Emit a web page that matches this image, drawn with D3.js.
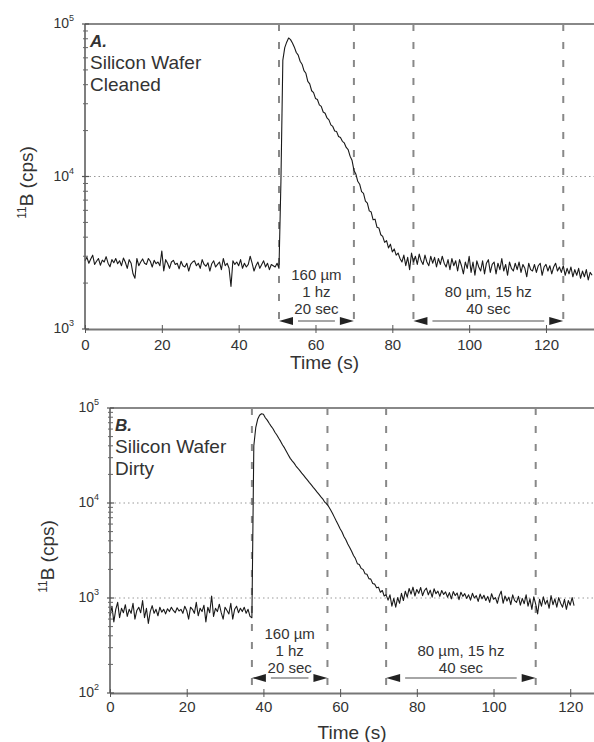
<!DOCTYPE html>
<html><head><meta charset="utf-8">
<script src="https://cdn.jsdelivr.net/npm/d3@7"></script>
<style>
body{margin:0;background:#fff}
svg{display:block}
text{font-family:"Liberation Sans",Arial,Helvetica,sans-serif;fill:#333}
</style>
</head><body>
<svg id="chart" width="594" height="742"></svg>
<script>
// ---------- data ----------
const xTickValues = [0, 20, 40, 60, 80, 100, 120];
const topDecades = [3, 4, 5];
const botDecades = [2, 3, 4, 5];
const sampleStep = 0.5; // seconds between samples

// Panel A: Silicon wafer cleaned (cps), samples every 0.5 s from t = 0
const topCps = [
2800,2950,2700,2880,3050,2650,2780,2900,2620,2830,
2750,2980,2700,2560,2850,2720,2900,2680,2800,2600,
2920,2740,2500,2850,2700,2300,2150,2900,2600,2750,
2880,2700,2650,2900,2780,2550,2820,2680,2750,2600,
3250,2400,2850,2700,2500,2750,2820,2650,2700,2480,
2780,2600,2550,2700,2400,2650,2750,2800,2600,2700,
2500,2850,2650,2580,2720,2400,2680,2800,2550,2650,
2750,2450,2900,2600,2700,2500,1900,2800,2650,2750,
2600,2850,2500,2700,2550,2650,3000,2700,2400,2600,
2750,2500,2650,2800,2550,2700,2450,2650,2600,2550,
2700,2500,
9200,58000,70000,76000,81000,
79000,75000,70500,65000,62500,57000,54500,49500,47500,42000,
40500,36500,35500,32500,32000,29500,28800,26500,26000,24200,
23500,21800,21300,19900,19700,18300,18000,17000,16600,15500,
15000,13600,12800,11000,10400,9300,8900,7950,7750,6900,
6700,5950,5850,5200,5250,4650,4600,4150,4050,3700,
3800,3400,3600,3200,3350,3050,3150,2900,
2750,3050,2600,2950,2450,3150,2750,3000,2650,3100,
2800,2650,3050,2750,2600,3000,2700,2950,2550,2900,
2650,3000,2700,2550,2850,2450,2900,2600,2800,2400,
2850,2600,2300,2750,2500,3000,2350,2750,2250,2800,
2550,2400,2800,2300,2700,2850,2350,2650,2750,2300,
2700,2450,2900,2400,2650,2250,2750,2500,2400,2700,
2450,2750,2350,2650,2500,2200,2700,2450,2400,2650,
2350,2600,2700,2250,2550,2650,2400,2600,2300,2550,
2700,2400,2550,2350,2600,2250,2500,2300,2550,2200,
2450,2250,2500,2150,2400,2200,2450,2100,2350,2250
];

// Panel B: Silicon wafer dirty (cps), samples every 0.5 s from t = 0
const botCps = [
650,820,560,760,900,620,780,700,850,640,
760,690,880,600,740,800,700,940,620,780,
540,720,830,690,760,650,800,710,760,680,
770,720,800,740,700,790,730,760,690,820,
740,600,800,760,690,900,650,780,720,840,
560,800,700,1050,640,780,720,860,700,600,
800,740,680,880,600,760,820,700,780,720,
800,690,760,640,
620,40000,62000,76000,84000,87000,86000,
79000,74500,69000,64500,60500,55500,52000,48000,44500,40800,
38000,34800,32000,29500,27800,26300,24500,23200,21900,20600,
19500,18400,17400,16400,15500,14600,13800,13000,12300,11600,
11000,10200,9800,9200,8500,7800,7100,6450,5900,5350,
4950,4450,4100,3700,3400,3100,2800,2600,2300,2250,
2050,2000,1800,1780,1600,1580,1420,1400,1280,1300,
1150,1200,1050,1080,
950,1080,820,990,800,1010,880,1120,940,1180,
1020,1260,1100,1300,1050,1230,1120,1290,1060,1200,
1270,1080,1210,1020,1250,1110,1180,1040,1200,1090,
1160,1020,1140,980,1170,1060,1130,960,1150,1040,
1110,990,1080,950,1120,1000,1060,920,1100,980,
1070,940,1040,900,1110,970,1010,880,1060,1180,
880,1050,930,1020,850,1080,940,900,1040,840,
990,870,1080,820,980,760,1030,860,680,970,
820,1030,860,950,780,1060,850,980,800,1010,
880,800,970,760,940,840,1010,830
];

const topMarkers = [50.5, 70, 85.5, 124.5];
const botMarkers = [37, 56.7, 72, 111];
const topLabels = ["A.", "Silicon Wafer", "Cleaned"];
const botLabels = ["B.", "Silicon Wafer", "Dirty"];
const pulseText = ["160 µm", "1 hz", "20 sec"];
const rasterText = ["80 µm, 15 hz", "40 sec"];
const xTitle = "Time (s)";
const yTitleSup = "11";
const yTitleMain = "B (cps)";

// ---------- drawing ----------
const svg = d3.select("#chart");

function drawPanel(cfg) {
  const g = svg.append("g");
  const x = d3.scaleLinear().domain([0, cfg.xMax]).range([cfg.left, cfg.right]);
  const y = d3.scaleLog().domain([Math.pow(10, cfg.decades[0]), Math.pow(10, cfg.decades[cfg.decades.length - 1])])
              .range([cfg.bottom, cfg.top]);

  // dotted gridlines at inner decades
  cfg.decades.slice(1, -1).forEach(d => {
    g.append("line").attr("x1", cfg.left).attr("x2", cfg.right)
      .attr("y1", y(Math.pow(10, d))).attr("y2", y(Math.pow(10, d)))
      .attr("stroke", "#999").attr("stroke-width", 1).attr("stroke-dasharray", "1.5,3");
  });

  // dashed vertical markers
  cfg.markers.forEach(m => {
    g.append("line").attr("x1", x(m)).attr("x2", x(m)).attr("y1", cfg.top).attr("y2", cfg.bottom)
      .attr("stroke", "#888").attr("stroke-width", 2).attr("stroke-dasharray", "7,11");
  });

  // data trace
  const pts = cfg.values.map((v, i) => [i * sampleStep, v]);
  g.append("path").datum(pts)
    .attr("fill", "none").attr("stroke", "#1a1a1a").attr("stroke-width", 1.1)
    .attr("stroke-linejoin", "round")
    .attr("d", d3.line().x(d => x(d[0])).y(d => y(d[1])));

  // top frame line
  g.append("line").attr("x1", cfg.left).attr("x2", cfg.right).attr("y1", cfg.top).attr("y2", cfg.top)
    .attr("stroke", "#888").attr("stroke-width", 2);

  // x axis
  const xa = g.append("g").attr("transform", `translate(0,${cfg.bottom})`)
    .call(d3.axisBottom(x).tickValues(xTickValues).tickSize(4).tickSizeOuter(0).tickFormat(d3.format("d")));
  xa.select(".domain").attr("stroke", "#777").attr("stroke-width", 2);
  xa.selectAll(".tick line").attr("stroke", "#555").attr("y1", -4).attr("y2", 4);
  xa.selectAll(".tick text").attr("font-size", 15).attr("fill", "#333")
    .attr("font-family", '"Liberation Sans",Arial,sans-serif').attr("dy", null).attr("y", cfg.xLabelDy);

  // left axis line
  g.append("line").attr("x1", cfg.left).attr("x2", cfg.left).attr("y1", cfg.top).attr("y2", cfg.bottom)
    .attr("stroke", "#555").attr("stroke-width", 1.5);

  // minor log ticks
  for (let i = 0; i < cfg.decades.length - 1; i++) {
    for (let k = 2; k <= 9; k++) {
      const v = k * Math.pow(10, cfg.decades[i]);
      g.append("line").attr("x1", cfg.left - 2).attr("x2", cfg.left + 3)
        .attr("y1", y(v)).attr("y2", y(v)).attr("stroke", "#666").attr("stroke-width", 1);
    }
  }
  // major y ticks & labels
  cfg.decades.forEach(d => {
    const yy = y(Math.pow(10, d));
    g.append("line").attr("x1", cfg.left - 3).attr("x2", cfg.left + 4)
      .attr("y1", yy).attr("y2", yy).attr("stroke", "#555").attr("stroke-width", 1.2);
    const t = g.append("text").attr("x", cfg.left - 11).attr("y", yy + 4)
      .attr("text-anchor", "end").attr("font-size", 14);
    t.append("tspan").text("10");
    t.append("tspan").attr("font-size", 9).attr("dy", -7).text(String(d));
  });

  // axis titles
  g.append("text").attr("x", (cfg.left + cfg.right) / 2 + cfg.xTitleShift).attr("y", cfg.xTitleY)
    .attr("text-anchor", "middle").attr("font-size", 19).text(xTitle);
  const yt = g.append("text")
    .attr("transform", `translate(${cfg.yTitleX},${(cfg.top + cfg.bottom) / 2 + 6}) rotate(-90)`)
    .attr("text-anchor", "middle").attr("font-size", 19);
  yt.append("tspan").attr("font-size", 12).attr("dy", -7).text(yTitleSup);
  yt.append("tspan").attr("dy", 7).text(yTitleMain);

  // panel labels
  cfg.labels.forEach((s, i) => {
    const t = g.append("text").attr("x", cfg.left + 5).attr("y", cfg.top + 23 + i * 22)
      .attr("font-size", i === 0 ? 17 : 19).text(s);
    if (i === 0) t.attr("font-weight", "bold").attr("font-style", "italic");
  });

  // annotations with arrows
  function annot(a, b, lines, firstY) {
    const xa = x(a), xb = x(b), cx = (xa + xb) / 2;
    lines.forEach((s, i) => {
      g.append("text").attr("x", cx).attr("y", firstY + i * 17)
        .attr("text-anchor", "middle").attr("font-size", 15).text(s);
    });
    const ay = cfg.arrowY;
    g.append("path").attr("d", `M${xa},${ay} L${xa + 14},${ay - 4} L${xa + 14},${ay + 4} Z`).attr("fill", "#222");
    g.append("path").attr("d", `M${xb},${ay} L${xb - 14},${ay - 4} L${xb - 14},${ay + 4} Z`).attr("fill", "#222");
    g.append("line").attr("x1", xa + 19).attr("x2", xb - 19).attr("y1", ay).attr("y2", ay)
      .attr("stroke", "#888").attr("stroke-width", 1.5);
  }
  annot(cfg.markers[0], cfg.markers[1], pulseText, cfg.pulseY);
  annot(cfg.markers[2], cfg.markers[3], rasterText, cfg.pulseY + 17);
}

drawPanel({
  left: 85, right: 594, top: 24, bottom: 329, xMax: 132.5,
  decades: topDecades, values: topCps, markers: topMarkers, labels: topLabels,
  xLabelDy: 21, xTitleY: 369, xTitleShift: -15, yTitleX: 33,
  arrowY: 321, pulseY: 280
});
drawPanel({
  left: 110, right: 594, top: 408, bottom: 693, xMax: 126.2,
  decades: botDecades, values: botCps, markers: botMarkers, labels: botLabels,
  xLabelDy: 19, xTitleY: 739, xTitleShift: 0, yTitleX: 54,
  arrowY: 678, pulseY: 639
});
</script>
</body></html>
